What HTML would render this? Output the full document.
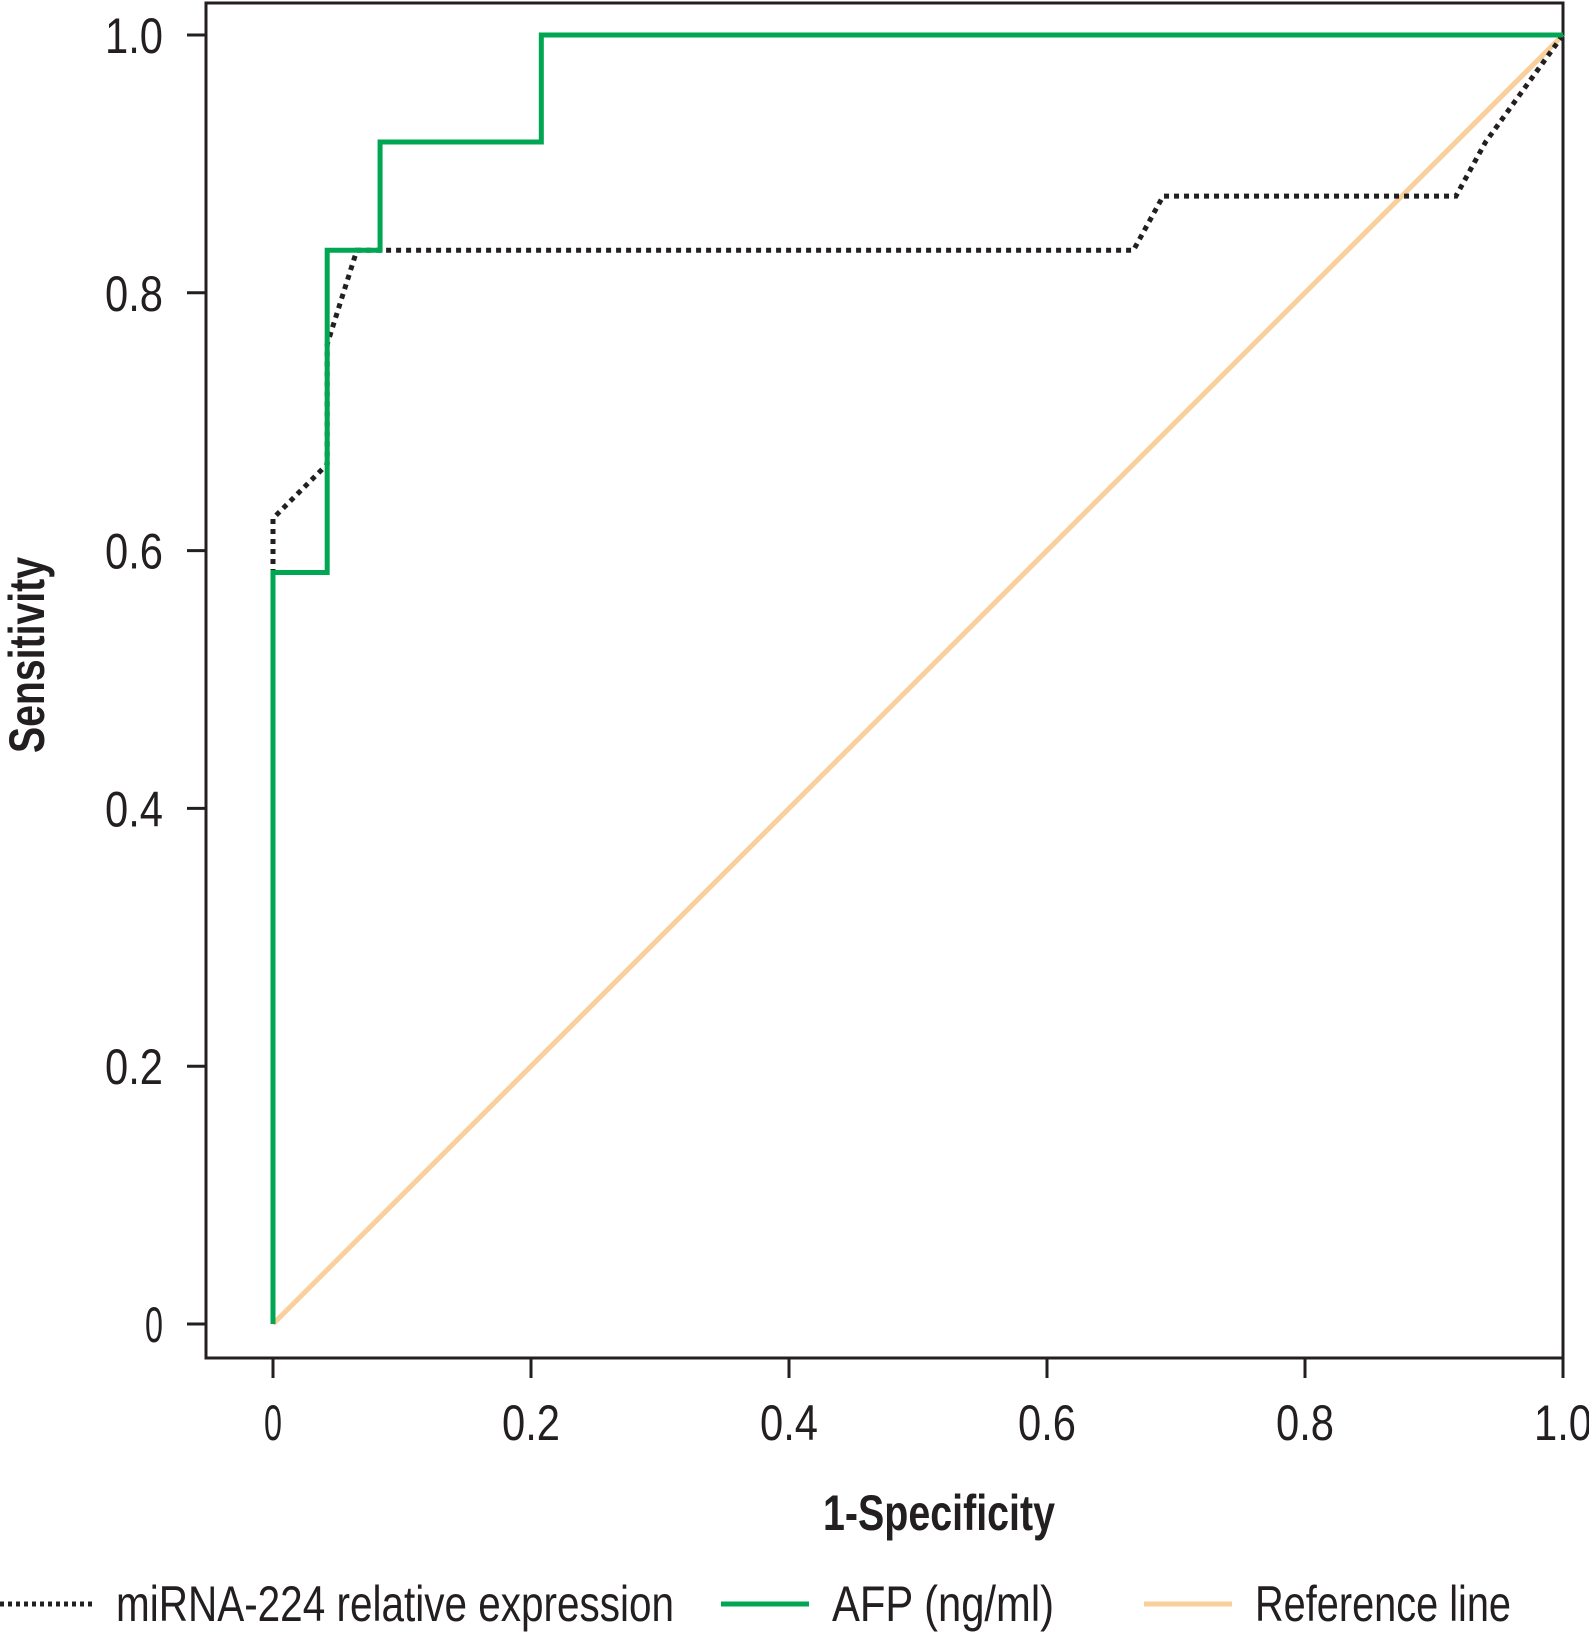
<!DOCTYPE html>
<html><head><meta charset="utf-8"><style>
html,body{margin:0;padding:0;background:#fff}
svg{display:block}
text{font-family:"Liberation Sans Narrow","Liberation Sans",sans-serif;fill:#231f20}
</style></head><body>
<svg id="chart" width="1589" height="1634" viewBox="0 0 1589 1634" xmlns="http://www.w3.org/2000/svg">
<g id="plot"></g>
</svg>
<script>
const xTicks=[0,0.2,0.4,0.6,0.8,1.0];
const xTickLabels=["0","0.2","0.4","0.6","0.8","1.0"];
const yTicks=[0,0.2,0.4,0.6,0.8,1.0];
const yTickLabels=["0","0.2","0.4","0.6","0.8","1.0"];
const afpX=[0,0,0.042,0.042,0.083,0.083,0.208,0.208,1];
const afpY=[0,0.583,0.583,0.833,0.833,0.917,0.917,1,1];
const mirX=[0,0,0.042,0.042,0.065,0.667,0.69,0.917,0.94,1];
const mirY=[0,0.625,0.667,0.76,0.833,0.833,0.875,0.875,0.917,1];
const refX=[0,1];
const refY=[0,1];

const NS="http://www.w3.org/2000/svg";
const g=document.getElementById('plot');
const X=v=>273+v*1290;
const Y=v=>1324-v*1289;
function mk(tag,attrs,parent){const e=document.createElementNS(NS,tag);for(const k in attrs)e.setAttribute(k,attrs[k]);(parent||g).appendChild(e);return e;}

const frame=mk('rect',{x:206,y:3,width:1357,height:1355,fill:'none',stroke:'#231f20','stroke-width':3});



xTicks.forEach((v,i)=>{
  const t=mk('line',{x1:X(v),x2:X(v),y1:1358,y2:1378,stroke:'#231f20','stroke-width':3});
  
  
  const l=mk('text',{x:X(v),y:1440,'text-anchor':'middle','font-size':50,textLength:xTickLabels[i].length>1?58:18,lengthAdjust:'spacingAndGlyphs'});
  l.textContent=xTickLabels[i];
  
  
});
yTicks.forEach((v,i)=>{
  const t=mk('line',{x1:187,x2:206,y1:Y(v),y2:Y(v),stroke:'#231f20','stroke-width':3});
  
  
  const l=mk('text',{x:163,y:Y(v)+18,'text-anchor':'end','font-size':50,textLength:yTickLabels[i].length>1?58:18,lengthAdjust:'spacingAndGlyphs'});
  l.textContent=yTickLabels[i];
  
  
});

function pts(xs,ys){return xs.map((x,i)=>X(x)+','+Y(ys[i])).join(' ');}
const ref=mk('polyline',{points:pts(refX,refY),fill:'none',stroke:'#f9cf9b','stroke-width':5});


const mir=mk('polyline',{points:pts(mirX,mirY),fill:'none',stroke:'#231f20','stroke-width':5,'stroke-dasharray':'5 5'});


const afp=mk('polyline',{points:pts(afpX,afpY),fill:'none',stroke:'#00a651','stroke-width':5});



const xt=mk('text',{x:939,y:1530,'text-anchor':'middle','font-size':50,'font-weight':'bold',textLength:232,lengthAdjust:'spacingAndGlyphs'});
xt.textContent='1-Specificity';


const yt=mk('text',{x:0,y:0,'text-anchor':'middle','font-size':50,'font-weight':'bold',textLength:196,lengthAdjust:'spacingAndGlyphs',transform:'translate(44,655) rotate(-90)'});
yt.textContent='Sensitivity';



const legend=[
  {x1:0,x2:94,tx:116,tw:558,label:'miRNA-224 relative expression',stroke:'#231f20',dash:'4 4',name:'legend-mirna'},
  {x1:721,x2:809,tx:832,tw:222,label:'AFP (ng/ml)',stroke:'#00a651',dash:'',name:'legend-afp'},
  {x1:1144,x2:1232,tx:1255,tw:256,label:'Reference line',stroke:'#f9cf9b',dash:'',name:'legend-reference'}
];
legend.forEach(e=>{
  const grp=mk('g',{});
  
  
  const a={x1:e.x1,x2:e.x2,y1:1604,y2:1604,stroke:e.stroke,'stroke-width':5};
  if(e.dash)a['stroke-dasharray']=e.dash;
  mk('line',a,grp);
  const t=mk('text',{x:e.tx,y:1621,'font-size':50,textLength:e.tw,lengthAdjust:'spacingAndGlyphs'},grp);
  t.textContent=e.label;
});
</script>
</body></html>
